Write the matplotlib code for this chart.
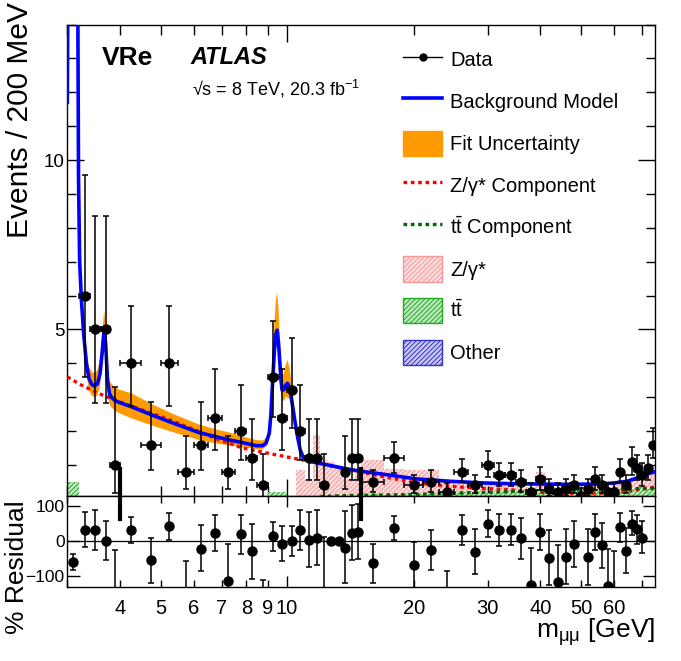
import matplotlib
matplotlib.use("Agg")
import matplotlib.pyplot as plt
from matplotlib.lines import Line2D
from matplotlib.patches import Patch
from matplotlib.ticker import LogLocator, FuncFormatter, MultipleLocator

plt.rcParams["font.family"] = ["Liberation Sans", "DejaVu Sans"]
plt.rcParams["hatch.linewidth"] = 0.7

# ---- data ----
data_mass = [3.3, 3.5, 3.7, 3.9,
             4.25, 4.75, 5.25, 5.75, 6.25, 6.75, 7.25, 7.75, 8.25, 8.75,
             9.25, 9.75, 10.25, 10.75, 11.25, 11.75, 12.25, 13.75, 14.25, 14.75,
             16, 18, 20, 22, 24, 26, 28, 30, 32, 34, 36, 38, 40, 42, 44, 46,
             48, 50, 52, 54, 56, 58, 60, 62, 64, 66, 68, 70, 72, 74]
data_halfwidth = [0.1, 0.1, 0.1, 0.1,
                  0.25, 0.25, 0.25, 0.25, 0.25, 0.25, 0.25, 0.25, 0.25, 0.25,
                  0.25, 0.25, 0.25, 0.25, 0.25, 0.25, 0.25, 0.25, 0.25, 0.25,
                  1, 1, 1, 1, 1, 1, 1, 1, 1, 1, 1, 1, 1, 1, 1, 1,
                  1, 1, 1, 1, 1, 1, 1, 1, 1, 1, 1, 1, 1, 1]
data_val = [6.0, 5.0, 5.0, 1.0,
            4.0, 1.6, 4.0, 0.8, 1.6, 2.4, 0.8, 2.0, 1.2, 0.4,
            3.6, 2.4, 3.2, 2.0, 1.2, 1.2, 0.4, 0.8, 1.2, 1.2,
            0.5, 1.2, 0.4, 0.5, 0.2, 0.8, 0.4, 1.0, 0.7, 0.7, 0.5, 0.2, 0.6, 0.3, 0.2, 0.3,
            0.4, 0.1, 0.3, 0.6, 0.4, 0.2, 0.2, 0.8, 0.4, 1.1, 0.9, 0.7, 0.9, 1.6]
data_err_lo = [2.4, 2.16, 2.16, 0.83,
               1.26, 0.76, 1.26, 0.51, 0.76, 0.95, 0.51, 0.85, 0.65, 0.33,
               1.17, 0.95, 1.11, 0.85, 0.65, 0.65, 0.33, 0.51, 0.65, 0.65,
               0.3, 0.44, 0.22, 0.3, 0.13, 0.29, 0.22, 0.35, 0.33, 0.33, 0.3, 0.13, 0.33, 0.2, 0.13, 0.2,
               0.22, 0.08, 0.2, 0.33, 0.22, 0.13, 0.13, 0.29, 0.22, 0.4, 0.33, 0.33, 0.33, 0.4]
data_err_hi = [3.57, 3.36, 3.36, 2.29,
               1.7, 1.27, 1.7, 1.05, 1.27, 1.42, 1.05, 1.35, 1.15, 0.93,
               1.64, 1.42, 1.56, 1.35, 1.15, 1.15, 0.93, 1.05, 1.15, 1.15,
               0.35, 0.47, 0.31, 0.35, 0.27, 0.39, 0.31, 0.42, 0.37, 0.37, 0.35, 0.27, 0.35, 0.3, 0.27, 0.3,
               0.31, 0.22, 0.3, 0.35, 0.31, 0.27, 0.27, 0.39, 0.31, 0.44, 0.4, 0.37, 0.4, 0.5]

# background model with fit uncertainty band
model_mass = [3.00, 3.03, 3.10, 3.16, 3.19, 3.21, 3.24, 3.28, 3.33, 3.38, 3.43, 3.48, 3.54,
              3.59, 3.63, 3.67, 3.70, 3.74, 3.78, 3.82, 3.90, 4.00, 4.26, 4.76, 5.32,
              6.16, 6.74, 7.28, 7.84, 8.44, 8.74, 8.91, 9.07, 9.15, 9.24, 9.33, 9.40,
              9.47, 9.54, 9.60, 9.67, 9.73, 9.82, 9.92, 10.02, 10.12, 10.22, 10.31,
              10.45, 10.60, 10.74, 10.94, 11.3, 12.39, 13.56, 14.88, 16.9, 20.3, 24.4,
              29.3, 33.9, 38.6, 46.3, 55.7, 59.9, 64.4, 68.0, 70.6, 73.0, 75.0]
model_val = [11.7, 22, 60, 22, 9.5, 7.0, 5.9, 4.9, 4.0, 3.55, 3.38, 3.33, 3.4,
             3.7, 4.3, 5.0, 4.6, 3.5, 3.1, 3.0, 2.9, 2.84, 2.72, 2.48, 2.25,
             1.96, 1.84, 1.74, 1.66, 1.57, 1.57, 1.64, 1.94, 2.5, 3.5, 4.4, 4.85,
             4.98, 4.6, 4.1, 3.5, 3.21, 3.22, 3.35, 3.41, 3.3, 3.05, 2.72,
             2.25, 1.8, 1.45, 1.2, 1.11, 1.01, 0.91, 0.82, 0.73, 0.59, 0.52,
             0.47, 0.45, 0.44, 0.43, 0.44, 0.47, 0.52, 0.62, 0.71, 0.76, 0.8]
model_lo = [10.8, 20, 55, 20, 8.8, 6.5, 5.4, 4.5, 3.7, 3.2, 3.05, 3.0, 3.05,
            3.35, 3.9, 4.6, 4.2, 3.2, 2.8, 2.7, 2.6, 2.52, 2.38, 2.17, 1.98,
            1.74, 1.64, 1.58, 1.52, 1.47, 1.47, 1.54, 1.8, 2.3, 3.2, 4.0, 4.4,
            4.55, 4.2, 3.7, 3.15, 2.9, 2.9, 3.0, 3.0, 2.95, 2.75, 2.45,
            2.05, 1.65, 1.35, 1.15, 1.07, 0.98, 0.88, 0.79, 0.7, 0.57, 0.5,
            0.45, 0.43, 0.42, 0.41, 0.42, 0.45, 0.5, 0.6, 0.69, 0.74, 0.78]
model_hi = [12.8, 24, 65, 24, 10.3, 7.6, 6.4, 5.3, 4.4, 3.9, 3.75, 3.7, 3.8,
            4.15, 4.8, 5.55, 5.1, 3.9, 3.5, 3.4, 3.28, 3.22, 3.12, 2.8, 2.52,
            2.2, 2.06, 1.96, 1.84, 1.74, 1.72, 1.8, 2.15, 2.8, 4.0, 5.2, 5.85,
            6.1, 5.6, 4.8, 4.0, 3.6, 3.7, 3.95, 4.1, 3.9, 3.5, 3.05,
            2.5, 1.97, 1.57, 1.26, 1.15, 1.04, 0.94, 0.85, 0.76, 0.61, 0.54,
            0.49, 0.47, 0.46, 0.45, 0.46, 0.49, 0.54, 0.64, 0.73, 0.78, 0.82]

# fitted components
zcomp_mass = [3.0, 3.24, 3.55, 3.89, 4.26, 5.13, 6.16, 6.74, 7.84, 9.41, 11.3, 12.4, 13.56,
              14.88, 16.9, 20.3, 24.4, 29.3, 33.9, 38.6, 46, 55, 62, 68, 75]
zcomp_val = [3.6, 3.36, 3.12, 2.92, 2.74, 2.38, 1.99, 1.79, 1.5, 1.3, 1.11, 1.0, 0.9,
             0.8, 0.66, 0.47, 0.37, 0.31, 0.27, 0.2, 0.17, 0.17, 0.2, 0.27, 0.35]
ttcomp_mass = [12, 14, 20, 25, 35, 45, 60, 75]
ttcomp_val = [0.07, 0.1, 0.13, 0.17, 0.22, 0.26, 0.29, 0.31]

# MC templates (hatched)
zg_edges = [10.5, 11.0, 11.5, 12.0, 12.5, 13.0, 13.5, 14.0, 14.5, 15,
            17, 19, 21, 23, 25, 27, 29, 31, 33, 35, 37, 39, 41, 43, 45,
            47, 49, 51, 53, 55, 57, 59, 61, 63, 65, 67, 69, 71, 73, 75]
zg_hist = [0.86, 0.6, 1.9, 1.15, 1.08, 0.95, 0.75, 0.6, 0.8,
           1.14, 0.88, 0.85, 0.85, 0.57, 0.52, 0.47, 0.45, 0.4, 0.4,
           0.38, 0.35, 0.78, 0.35, 0.3, 0.4, 0.3, 0.3, 0.3, 0.45,
           0.35, 0.3, 0.45, 0.55, 0.55, 0.6, 0.65, 0.7, 0.72, 0.72]
tt_edges = [3.0, 3.2, 9.0, 10.0, 13.0, 15,
            17, 19, 21, 23, 25, 27, 29, 31, 33, 35, 37, 39, 41, 43, 45,
            47, 49, 51, 53, 55, 57, 59, 61, 63, 65, 67, 69, 71, 73, 75]
tt_hist = [0.5, 0, 0.2, 0, 0.1,
           0.15, 0.12, 0.15, 0.18, 0.15, 0.2, 0.2, 0.18, 0.2, 0.22,
           0.25, 0.2, 0.3, 0.25, 0.22, 0.3, 0.25, 0.2, 0.25, 0.3,
           0.25, 0.22, 0.3, 0.3, 0.25, 0.3, 0.3, 0.35, 0.3, 0.35]

# residual panel
res_mass = [3.1, 3.3, 3.5, 3.7, 3.9, 4.25, 4.75, 5.25, 5.75, 6.25, 6.75, 7.25, 7.75, 8.25, 8.75,
            9.25, 9.75, 10.25, 10.75, 11.25, 11.75, 12.25, 12.75, 13.25, 13.75, 14.25, 14.75,
            16, 18, 20, 22, 24, 26, 28, 30, 32, 34, 36, 38, 40, 42, 44, 46, 48,
            52, 54, 56, 58, 60, 62, 64, 66, 68, 70]
res_val = [-60, 33, 33, 0, -150, 31, -55, 42, -150, -22, 23, -114, 19, -29, -150,
           14, -8, 0, 32, 4, 9, -150, 0, 0, -19, 23, 26,
           -63, 38, -67, -25, -150, 32, -30, 50, 31, 32, 9, -124, 26, -47, -117, -44, -8,
           -46, 26, -10, -127, -150, 40, -27, 50, 35, 10]
res_top = [-36, 83, 90, 57, -25, 69, 10, 80, -57, 45, 75, -9, 75, 50, -112,
           54, 44, 43, 90, 83, 88, 11, 0, 0, 86, 102, 105,
           -7, 71, -3, 33, -86, 73, 34, 88, 76, 78, 65, -19, 76, 33, -12, 35, 57,
           34, 76, 53, -22, -29, 81, 38, 86, 75, 56]
res_bottom = [-82, -17, -25, -55, -200, -6, -120, 4, -200, -86, -27, -200, -38, -107, -200,
              -27, -58, -43, -25, -74, -69, -200, 0, 0, -120, -55, -52,
              -120, 4, -200, -82, -200, -12, -95, 13, -15, -12, -50, -200, -25, -124, -200, -122, -74,
              -124, -25, -77, -200, -200, -3, -90, 16, -9, -34]

region_marks = [4.0, 15.0]
tick_labels = [4, 5, 6, 7, 8, 9, 10, 20, 30, 40, 50, 60]

# ---- figure ----
W, H = 681, 661
fig = plt.figure(figsize=(W / 100, H / 100), dpi=100)
x0, x1 = 67.3, 655.0
ax = fig.add_axes([x0 / W, 1 - 495.5 / H, (x1 - x0) / W, (495.5 - 24.5) / H])
rax = fig.add_axes([x0 / W, 1 - 586.7 / H, (x1 - x0) / W, (586.7 - 495.5) / H], sharex=ax)

ax.stairs(zg_hist, zg_edges, fill=True, facecolor="#fcdcdc", edgecolor="#f29a9a",
          hatch="///////", linewidth=0, zorder=1)
ax.stairs(tt_hist, tt_edges, fill=True, facecolor="#bfe8bf", edgecolor="#22aa22",
          hatch="///////", linewidth=0, zorder=2)
ax.fill_between(model_mass, model_lo, model_hi, color="#ff9a00", lw=0, zorder=3)
ax.plot(zcomp_mass, zcomp_val, color="red", lw=2.4, dashes=(1.1, 1.1), zorder=4)
ax.plot(ttcomp_mass, ttcomp_val, color="#006600", lw=2.4, dashes=(1.1, 1.1), zorder=4)
ax.plot(model_mass, model_val, color="blue", lw=2.6, zorder=5)

ax.errorbar(data_mass, data_val, yerr=[data_err_lo, data_err_hi], xerr=data_halfwidth,
            fmt="o", color="black", ms=6.5, elinewidth=1.1, capsize=2.2, capthick=1.1, zorder=6)

for m in region_marks:
    ax.plot([m, m], [0, 0.88], color="black", lw=3, zorder=7)
    rax.plot([m, m], [64, 200], color="black", lw=3, zorder=7)

ax.set_xscale("log")
ax.set_xlim(3.0, 75)
ax.set_ylim(0.1, 14)

# residuals
rax.axhline(0, color="black", lw=0.9, zorder=1)
yerr_r = [[v - b for v, b in zip(res_val, res_bottom)], [t - v for v, t in zip(res_val, res_top)]]
rax.errorbar(res_mass, res_val, yerr=yerr_r, fmt="o", color="black", ms=6.5,
             elinewidth=1.1, capsize=2.2, capthick=1.1, zorder=6)
rax.set_ylim(-130, 130)
rax.set_yticks([-100, 0, 100])
rax.set_yticklabels(["\u2212100", "0", "100"])

# ticks
for a in (ax, rax):
    a.xaxis.set_major_locator(LogLocator(base=10, subs=(1.0,)))
    a.xaxis.set_minor_locator(LogLocator(base=10, subs=(2, 3, 4, 5, 6, 7, 8, 9)))
    a.tick_params(which="both", direction="in", top=True, right=True, labelsize=14.5, width=1)
    for s in a.spines.values():
        s.set_linewidth(1)

ax.tick_params(axis="x", which="major", length=12)
ax.tick_params(axis="x", which="minor", length=7)
ax.tick_params(axis="y", which="major", length=12, pad=2, labelsize=13.5)
ax.tick_params(axis="y", which="minor", length=6.5)
ax.yaxis.set_major_locator(MultipleLocator(5))
ax.yaxis.set_minor_locator(MultipleLocator(1))
ax.tick_params(axis="x", labelbottom=False)

rax.tick_params(axis="x", which="major", length=8, pad=9)
rax.tick_params(axis="x", which="minor", length=5, pad=9)
rax.tick_params(axis="y", which="major", length=9, pad=2, labelsize=12.5)
rax.xaxis.set_major_formatter(FuncFormatter(lambda v, p: f"{v:g}" if round(v) in tick_labels else ""))
rax.xaxis.set_minor_formatter(FuncFormatter(lambda v, p: f"{v:g}" if round(v) in tick_labels else ""))

# labels
fig.text(20 / W, 1 - 2 / H, "Events / 200 MeV", rotation=90, ha="center", va="top", fontsize=21.5)
fig.text(17 / W, 1 - 500 / H, "% Residual", rotation=90, ha="center", va="top", fontsize=19)
fig.text(655 / W, 1 - 638 / H, r"m$\mathregular{_{\mu\mu}}$ [GeV]", ha="right", va="baseline", fontsize=19)

fig.text(101.7 / W, 1 - 65 / H, "VRe", fontsize=19, fontweight="bold", va="baseline")
fig.text(190 / W, 1 - 64.3 / H, "ATLAS", fontsize=17, fontweight="bold", style="italic", va="baseline")
fig.text(191.7 / W, 1 - 95 / H, "\u221as = 8 TeV, 20.3 fb$\\mathregular{^{-1}}$", fontsize=13, va="baseline")

# legend
handles = [
    Line2D([], [], color="black", marker="o", ms=5, lw=1),
    Line2D([], [], color="blue", lw=2.6),
    Patch(facecolor="#ff9a00", edgecolor="#ff9a00"),
    Line2D([], [], color="red", lw=2.4, dashes=(1.1, 1.1)),
    Line2D([], [], color="#006600", lw=2.4, dashes=(1.1, 1.1)),
    Patch(facecolor="#fcdcdc", edgecolor="#f29a9a", hatch="///////", lw=1),
    Patch(facecolor="#bfe8bf", edgecolor="#22aa22", hatch="///////", lw=1),
    Patch(facecolor="#c8c8f5", edgecolor="#3333cc", hatch="///////", lw=1),
]
labels = ["Data", "Background Model", "Fit Uncertainty", "Z/\u03b3* Component",
          r"t$\mathregular{\bar{t}}$ Component", "Z/\u03b3*", r"t$\mathregular{\bar{t}}$", "Other"]
ax.legend(handles, labels, loc="upper left", bbox_to_anchor=(0.571, 0.952), frameon=False,
          fontsize=14.5, handlelength=1.95, handleheight=1.55, handletextpad=0.4,
          labelspacing=0.82, borderpad=0, borderaxespad=0)

fig.savefig("out.png", dpi=100)
